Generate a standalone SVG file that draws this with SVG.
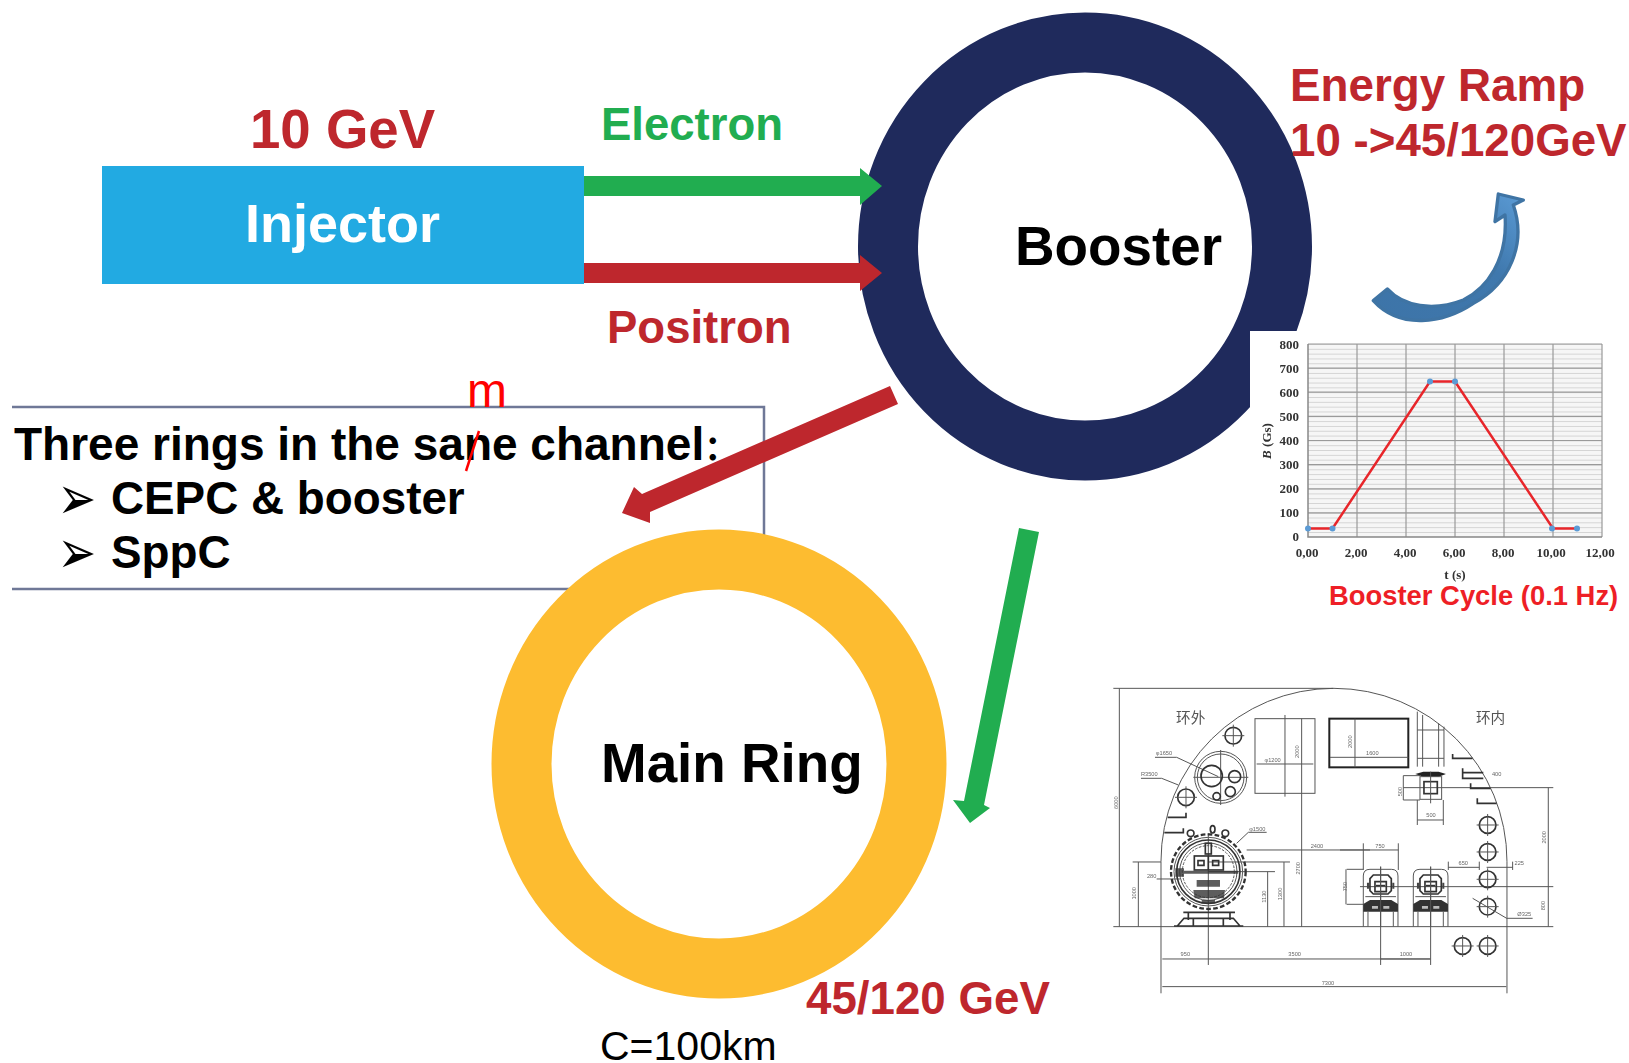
<svg xmlns="http://www.w3.org/2000/svg" width="1629" height="1063" viewBox="0 0 1629 1063">
<defs>
<style>
text{font-family:"Liberation Sans",Arial,sans-serif}
.b{font-weight:700}
.red{fill:#be272d}
.blk{fill:#000}
.ax{font-family:"Liberation Serif",serif;font-weight:700;font-size:13px;fill:#333}
.c{fill:none;stroke:#555;stroke-width:3}
.t{fill:none;stroke:#333;stroke-width:5}
.k{fill:none;stroke:#222;stroke-width:6}
.d{font-size:17px;fill:#666;text-anchor:middle}
.cj{font-family:"Noto Sans CJK SC",sans-serif;font-size:44px;fill:#555}
.bul{font-family:"DejaVu Sans",sans-serif;font-size:42px}
</style>
<pattern id="minor" x="1308" y="344" width="294" height="4.82" patternUnits="userSpaceOnUse"><rect width="294" height="4.82" fill="#f6f6f6"/><path d="M0 .5H294" stroke="#d4d4d4" stroke-width="1"/></pattern>
<linearGradient id="curve" x1="0" y1="1" x2="1" y2="0"><stop offset="0" stop-color="#3d74a8"/><stop offset=".6" stop-color="#3f78ad"/><stop offset="1" stop-color="#5b9bd5"/></linearGradient>
<filter id="soft" x="-5%" y="-5%" width="110%" height="110%"><feGaussianBlur stdDeviation=".55"/></filter>
<g id="cross"><circle r="25" fill="none" stroke="#333" stroke-width="5"/><path d="M-33 0H33M0-33V33" class="c"/></g>
<g id="small-magnet">
<path d="M-52 120V-32Q-52-52-32-52H32Q52-52 52-32V120" class="c"/>
<path d="M-32 40H32L52 52V75H-52V52Z" fill="#333"/><path d="M-26 58H-8V66H-26ZM8 58H26V66H8Z" fill="#bbb"/>
<path d="M-22-35H22L32-24V12L22 22H-22L-32 12V-24Z" class="t"/>
<path d="M-17-15H17V15H-17Z" class="t"/><path d="M-14-3H14" stroke="#333" stroke-width="5"/>
<path d="M-38-12V6M38-12V6" stroke="#444" stroke-width="6"/>
<path d="M-38 75V120M38 75V120M-46 30H46" class="c"/><path d="M0-60V120" class="c"/></g>
</defs>
<rect width="1629" height="1063" fill="#fff"/>

<g id="curved-arrow" transform="translate(1340 170) scale(.3333)">
<path d="M100 392L142 357C190 410 280 425 370 390C440 355 505 270 495 135L465 155L475 72L550 90L520 105C560 220 510 340 400 400C310 460 180 480 100 392Z" fill="url(#curve)" stroke="#3f74a4" stroke-width="10" stroke-linejoin="round"/>
</g>

<g id="booster">
<ellipse cx="1085" cy="246.500" rx="197" ry="204" fill="none" stroke="#1f2a5c" stroke-width="60"/>
<text x="1015" y="265" font-size="54.800" class="b blk">Booster</text>
</g>

<g id="chart">
<rect x="1250" y="331" width="360" height="256" fill="#fff"/>
<g filter="url(#soft)">
<rect x="1308" y="344" width="294" height="193" fill="url(#minor)"/>
<path d="M1308 344H1602M1308 368.100H1602M1308 392.200H1602M1308 416.400H1602M1308 440.500H1602M1308 464.600H1602M1308 488.800H1602M1308 512.900H1602M1357 344V537M1406 344V537M1455 344V537M1504 344V537M1553 344V537M1602 344V537" stroke="#9a9a9a" stroke-width="1.200" fill="none"/>
<path d="M1308 344V537H1602" stroke="#888" stroke-width="1.500" fill="none"/>
<path d="M1308 528.500H1332.500L1430 381.500H1455L1553 528.500H1577.500" fill="none" stroke="#e8262c" stroke-width="2.500"/>
<g fill="#5b9bd5"><circle cx="1308" cy="528.500" r="3"/><circle cx="1332.500" cy="528.500" r="3"/><circle cx="1430" cy="381.500" r="3"/><circle cx="1455" cy="381.500" r="3"/><circle cx="1552" cy="528.500" r="3"/><circle cx="1577" cy="528.500" r="3"/></g>
<g class="ax" text-anchor="end"><text class="ax" x="1299" y="349">800</text><text class="ax" x="1299" y="373">700</text><text class="ax" x="1299" y="397">600</text><text class="ax" x="1299" y="421">500</text><text class="ax" x="1299" y="445">400</text><text class="ax" x="1299" y="469">300</text><text class="ax" x="1299" y="493">200</text><text class="ax" x="1299" y="517">100</text><text class="ax" x="1299" y="541">0</text></g>
<g text-anchor="middle"><text class="ax" x="1307" y="557">0,00</text><text class="ax" x="1356" y="557">2,00</text><text class="ax" x="1405" y="557">4,00</text><text class="ax" x="1454" y="557">6,00</text><text class="ax" x="1503" y="557">8,00</text><text class="ax" x="1551" y="557">10,00</text><text class="ax" x="1600" y="557">12,00</text><text class="ax" x="1455" y="579" font-size="14">t (s)</text></g>
<text class="ax" transform="translate(1271 441) rotate(-90)" text-anchor="middle"><tspan font-style="italic">B</tspan> (Gs)</text>
</g>
<text x="1329" y="605" font-size="27.400" class="b" fill="#ee1f26">Booster Cycle (0.1 Hz)</text>
</g>

<g id="box">
<path d="M12 407H764V560M12 589H580" fill="none" stroke="#6f7897" stroke-width="2.500"/>
<text x="14" y="460" font-size="46" class="b blk">Three rings in the sane channel<tspan style="font-family:'Noto Sans CJK SC',sans-serif" font-size="34">：</tspan></text>
<text class="bul" transform="translate(57.500 519) scale(1.100 1.450)">➢</text>
<text x="111" y="514" font-size="45.800" class="b blk">CEPC &amp; booster</text>
<text class="bul" transform="translate(57.500 573) scale(1.100 1.450)">➢</text>
<text x="111" y="568" font-size="45.800" class="b blk">SppC</text>
<text x="467" y="407" font-size="48" fill="#ff0000">m</text>
<path d="M479 431L466 471" stroke="#ff0000" stroke-width="2.500"/>
</g>

<g id="main-ring">
<ellipse cx="719" cy="764" rx="197.500" ry="204.500" fill="none" stroke="#fdbc30" stroke-width="60"/>
<text x="601" y="782" font-size="54.800" class="b blk">Main Ring</text>
</g>

<g id="injector">
<rect x="102" y="166" width="482" height="118" fill="#22aae2"/>
<text x="245" y="242" font-size="54" class="b" fill="#fff">Injector</text>
</g>

<g id="connectors">
<path d="M584 176H860V168L882 186L860 205V196H584Z" fill="#21ad50"/>
<path d="M584 263H860V255L882 273L860 291V283H584Z" fill="#be272d"/>
<path d="M622 513L634 487L642 494L890 386L898 404L650 512L650 523Z" fill="#be272d"/>
<path d="M970 823L953 800L964 801L1019 528L1039 532L984 805L990 808Z" fill="#21ad50"/>
</g>

<g id="labels">
<text x="250" y="148" font-size="54.600" class="b red">10 GeV</text>
<text x="601" y="140" font-size="45.500" class="b" fill="#21ad50">Electron</text>
<text x="607" y="343" font-size="45.500" class="b red">Positron</text>
<text x="1290" y="101" font-size="45.800" class="b red">Energy Ramp</text>
<text x="1290" y="156" font-size="45.700" class="b red">10 -&gt;45/120GeV</text>
<text x="806" y="1014" font-size="45.700" class="b red">45/120 GeV</text>
<text x="600" y="1059.500" font-size="41" class="blk">C=100km</text>
</g>

<g id="tunnel" transform="translate(1100 670) scale(.3333)" filter="url(#soft)">
<path d="M40 770H1221M183 970V574A519 519 0 0 1 1221 574V970" class="c" stroke-width="4"/>
<path d="M40 55H700M58 55V770M98 576H183M115 576V770M187 867H990M187 950H1219M440 540H810M325 490V885M325 576H570M552 576V770M325 605H525M503 605V770M170 627H240M605 146V770" class="c"/>
<path d="M165 262H230L355 320M123 325H185L235 345M445 487H500M445 487L410 520" class="c"/>
<text class="d" transform="translate(53 398) rotate(-90)">6000</text><text class="d" transform="translate(108 670) rotate(-90)">1000</text>
<text class="d" transform="translate(545 672) rotate(-90)">1300</text><text class="d" transform="translate(497 680) rotate(-90)">1130</text>
<text class="d" transform="translate(600 595) rotate(-90)">2700</text><text class="d" transform="translate(598 245) rotate(-90)">2000</text><text class="d" transform="translate(757 215) rotate(-90)">2000</text><text class="d" transform="translate(740 650) rotate(-90)">750</text>
<text class="d" x="192" y="254">φ1650</text><text class="d" x="148" y="318">R3500</text><text class="d" x="472" y="482">φ1500</text><text class="d" x="518" y="277">φ1200</text><text class="d" x="155" y="623">280</text><text class="d" x="651" y="534">2400</text><text class="d" x="256" y="858">950</text><text class="d" x="584" y="858">3500</text><text class="d" x="684" y="946">7300</text>
<text class="cj" x="228" y="160">环外</text>
<use href="#cross" x="400" y="197"/><use href="#cross" x="258" y="382"/>
<circle cx="362" cy="322" r="78" class="c"/><circle cx="362" cy="322" r="70" class="c"/><path d="M280 322H445M362 240V405" class="c"/>
<circle cx="335" cy="318" r="32" class="t" stroke-width="6"/><circle cx="404" cy="320" r="18" class="t"/><circle cx="391" cy="365" r="15" class="t"/><circle cx="350" cy="379" r="11" class="t"/>
<rect x="465" y="146" width="180" height="224" class="c"/><path d="M555 135V380M470 282H640" class="c"/>
<rect x="688" y="146" width="237" height="146" class="k"/><path d="M765 146V292M690 262H925" class="c"/>
<path d="M203 442H258V428M193 488H250V475" class="t" stroke-width="4"/>
<g id="large-magnet">
<circle cx="325" cy="605" r="112" fill="none" stroke="#333" stroke-width="7" stroke-dasharray="14 7"/><circle cx="325" cy="605" r="103" class="c"/><circle cx="325" cy="605" r="95" class="t" stroke-width="4"/><circle cx="325" cy="605" r="86" class="c"/><circle cx="325" cy="605" r="78" class="c" stroke-dasharray="8 4"/>
<path d="M262 490a10 10 0 1 0 20 0a10 10 0 1 0-20 0M366 490a10 10 0 1 0 20 0a10 10 0 1 0-20 0M331 478a7 11 0 1 0 14 0a7 11 0 1 0-14 0" class="t"/>
<rect x="283" y="558" width="87" height="42" class="t"/><path d="M325 558V600" class="t"/><path d="M294 572h18v14h-18zM338 572h18v14h-18z" class="t" stroke-width="4"/>
<rect x="316" y="520" width="18" height="32" class="t"/>
<path d="M240 602H415V611H240ZM226 595H252V620H226ZM290 630H360V650H290ZM280 660H375L372 685H284ZM305 690H345V700H305Z" fill="#333" fill-opacity=".8"/>
<path d="M250 727H405M232 768L252 745H400L420 768M222 768H430M265 727V750M390 727V750M280 745V770M370 745V770" class="t" stroke-width="6"/>
</g>
<g transform="translate(720 0)">
<text class="cj" x="408" y="158">环内</text>
<path d="M0 540H175M70 520V600M175 520V600M20 598H70M20 703H70M18 598V703M122 590V885M272 590V885M122 867H272M60 650H640M325 592H418M440 592H518M325 575V600M418 575V600M518 575V600M190 353H640M625 353V770M500 770H640M190 317H240M190 390H240M190 317V390M232 390V465M310 390V465M232 450H310" class="c"/>
<use href="#small-magnet" x="122" y="650"/><use href="#small-magnet" x="272" y="650"/>
<path d="M232 125V290M248 135V290M296 160V290M312 170V290M232 180H312M232 265H312" class="c"/>
<path d="M226 312L250 305H296L318 312L296 320H250Z" fill="#222"/>
<rect x="240" y="320" width="65" height="68" class="c"/><rect x="252" y="335" width="40" height="36" class="t"/><path d="M272 305V400" class="c"/>
<path d="M338 252V265H398M368 295V325H430M368 308H430M392 340V355H452M412 385V400H470" class="t" stroke-width="4"/>
<use href="#cross" x="443" y="465"/><use href="#cross" x="443" y="546"/><use href="#cross" x="443" y="628"/><use href="#cross" x="443" y="710"/><use href="#cross" x="368" y="828"/><use href="#cross" x="443" y="828"/>
<path d="M398 685L500 745H578" class="c"/>
<text class="d" x="553" y="739">Ø325</text><text class="d" x="120" y="533">750</text><text class="d" x="198" y="858">1000</text><text class="d" x="370" y="586">650</text><text class="d" x="538" y="586">225</text><text class="d" x="470" y="318">400</text><text class="d" x="273" y="442">500</text><text class="d" x="97" y="254">1600</text>
<text class="d" transform="translate(186 365) rotate(-90)">500</text><text class="d" transform="translate(617 502) rotate(-90)">2000</text><text class="d" transform="translate(616 707) rotate(-90)">800</text>
</g>
</g>
</svg>
